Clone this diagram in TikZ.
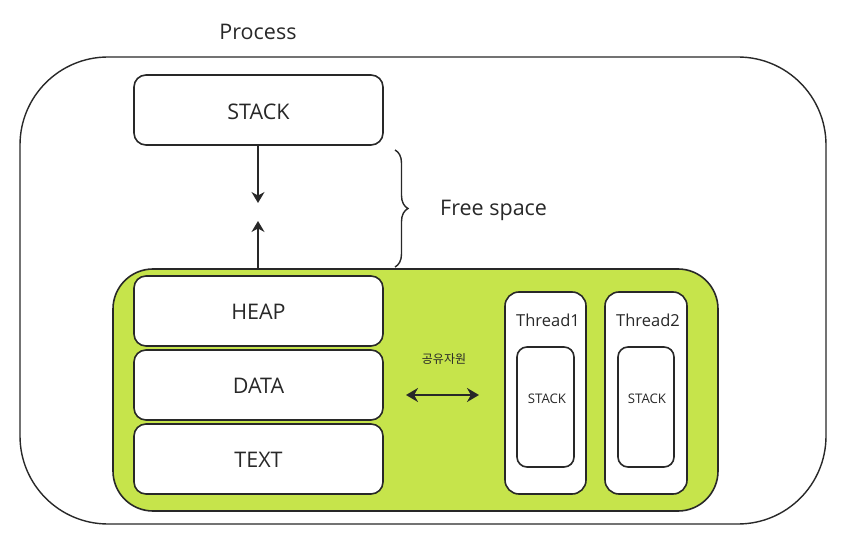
\documentclass[tikz,border=0pt]{standalone}
\usepackage{fontspec}
\setmainfont{Open Sans}
\newfontfamily\krfont{Noto Sans CJK KR}
\usetikzlibrary{arrows.meta,decorations.pathreplacing}
\definecolor{lime}{RGB}{198,228,75}
\definecolor{ink}{RGB}{40,40,40}
\tikzset{
  box/.style={draw=ink, line width=1.6pt, fill=white, rounded corners=#1, inner sep=0pt, align=center},
  box/.default=12pt,
  arr/.style={draw=ink, line width=1.4pt, -{Stealth[length=11pt,width=13pt]}},
  lbl/.style={inner sep=0pt, text=ink},
  big/.style={font=\fontsize{21.5}{25}\selectfont}
}
\begin{document}
\begin{tikzpicture}[x=1pt,y=-1pt]
\useasboundingbox (0,0) rectangle (849,545);
% outer process
\node[box=88pt, minimum width=806pt, minimum height=467pt, line width=1.4pt] (proc) at (423,290.5) {};
\node[lbl, big] (ptitle) at (258,32) {Process};
% stack
\node[box, minimum width=249pt, minimum height=70pt] (stack) at (258.5,110) {};
\node[lbl, big] (stackl) at (258.5,112) {STACK};
% green area
\node[box=40pt, fill=lime, minimum width=605pt, minimum height=242pt] (green) at (415.5,390) {};
\node[box, minimum width=249pt, minimum height=70pt] (heap) at (258.5,311) {};
\node[lbl, big] (heapl) at (258.5,312) {HEAP};
\node[box, minimum width=249pt, minimum height=70pt] (data) at (258.5,385) {};
\node[lbl, big] (datal) at (258.5,386) {DATA};
\node[box, minimum width=249pt, minimum height=70pt] (text) at (258.5,459) {};
\node[lbl, big] (textl) at (258.5,460) {TEXT};
% arrows stack/heap
\coordinate (sdown) at (258,203);
\coordinate (hup) at (258,221);
\draw[arr] (stack.south -| sdown) -- (sdown);
\draw[arr] (green.north -| hup) -- (hup);
% brace
\coordinate (bt) at (395,150);
\coordinate (bb) at (395,267);
\draw[draw=ink, line width=1.4pt, decorate, decoration={brace, amplitude=13pt}] (bt) -- (bb);
\node[lbl, big, anchor=west] (free) at (440,210) {Free space};
% shared resource
\node[lbl, font=\krfont\fontsize{12}{14}\selectfont] (shared) at (444,359) {공유자원};
\coordinate (sl) at (406,395);
\coordinate (sr) at (479,395);
\draw[draw=ink, line width=2pt, {Stealth[length=12pt,width=14pt]}-{Stealth[length=12pt,width=14pt]}] (sl) -- (sr);
% threads
\node[box=14pt, minimum width=81pt, minimum height=202pt] (t1) at (545.5,393) {};
\node[lbl, font=\fontsize{16.5}{19}\selectfont] (t1l) at (548,320) {Thread1};
\node[box=10pt, minimum width=57pt, minimum height=120pt] (t1s) at (545.5,407) {};
\node[lbl, font=\fontsize{13.2}{15}\selectfont] (t1sl) at (547,399) {STACK};
\node[box=14pt, minimum width=82pt, minimum height=202pt] (t2) at (646,393) {};
\node[lbl, font=\fontsize{16.5}{19}\selectfont] (t2l) at (648,320) {Thread2};
\node[box=10pt, minimum width=56pt, minimum height=120pt] (t2s) at (646,407) {};
\node[lbl, font=\fontsize{13.2}{15}\selectfont] (t2sl) at (647,399) {STACK};
\end{tikzpicture}
\end{document}
